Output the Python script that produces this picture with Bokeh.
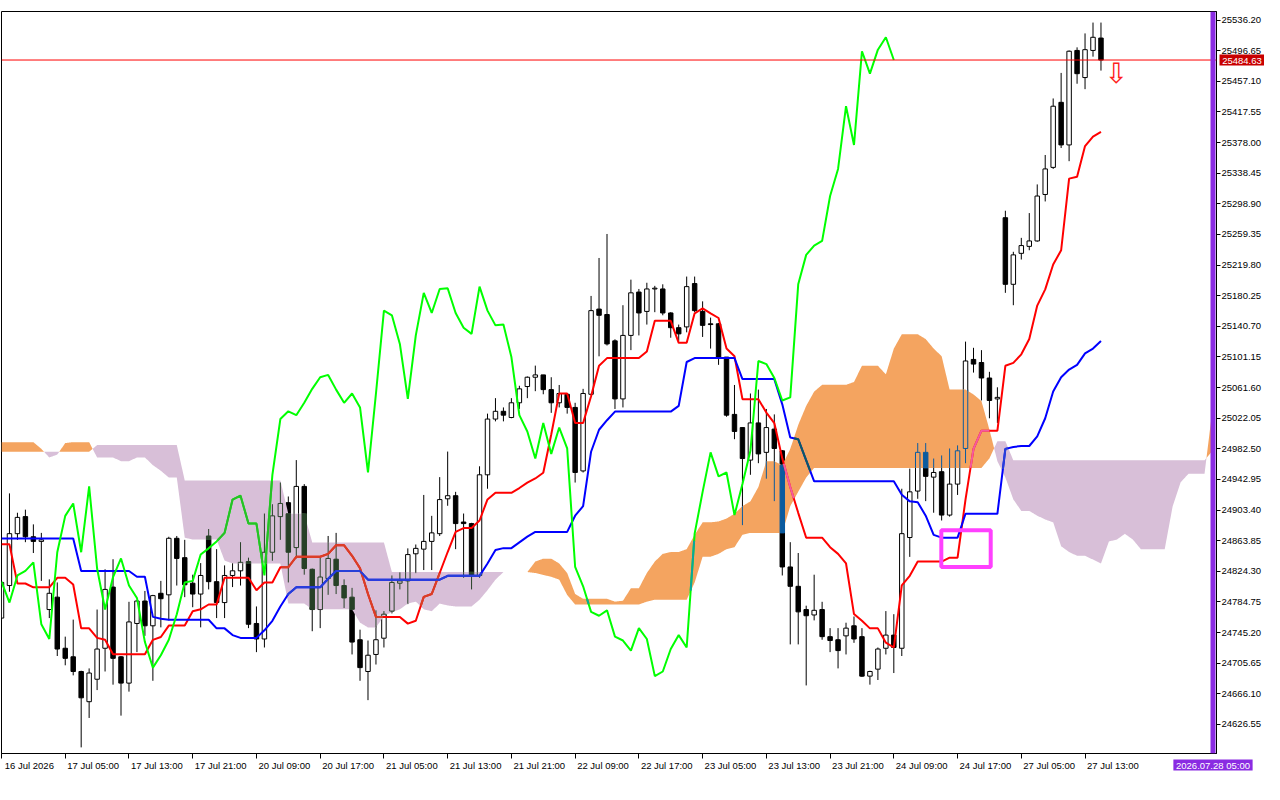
import numpy as np

from bokeh.core.properties import value
from bokeh.embed import file_html
from bokeh.models import FixedTicker, Label, PrintfTickFormatter, Range1d, Span
from bokeh.plotting import figure
from bokeh.resources import INLINE

# H1 candles, bar 0 = 16 Jul 2026 21:00, last bar = 27 Jul 17:00
open_ = [24764, 24806, 24873, 24895, 24869, 24863, 24775, 24791, 24725, 24714,
         24695, 24656, 24685, 24725, 24804, 24714, 24680, 24757, 24786, 24754,
         24796, 24794, 24867, 24842, 24809, 24795, 24870, 24811, 24784, 24819,
         24825, 24837, 24757, 24737, 24849, 24895, 24913, 24855, 24934, 24827,
         24775, 24815, 24840, 24806, 24791, 24736, 24695, 24717, 24738, 24773,
         24809, 24812, 24847, 24853, 24863, 24873, 24918, 24922, 24888, 24886,
         24819, 24949, 25021, 25031, 25023, 25042, 25063, 25075, 25078, 25059,
         25042, 25053, 25036, 24954, 25053, 25163, 25156, 25122, 25047, 25129,
         25185, 25160, 25189, 25189, 25158, 25139, 25140, 25196, 25160, 25144,
         25144, 25101, 25027, 25010, 24968, 25016, 24978, 25008, 24980, 24830,
         24805, 24775, 24768, 24775, 24740, 24736, 24741, 24754, 24740, 24689,
         24698, 24725, 24742, 24725, 24868, 24928, 24978, 24946, 24953, 24897,
         24937, 24983, 25098, 25094, 25074, 25047, 25281, 25195, 25235, 25244,
         25251, 25311, 25346, 25430, 25375, 25497, 25462, 25497, 25513]
high = [24816, 24925, 24900, 24904, 24885, 24874, 24814, 24810, 24740, 24762,
        24696, 24699, 24775, 24827, 24840, 24715, 24785, 24787, 24799, 24794,
        24812, 24869, 24870, 24865, 24820, 24835, 24879, 24853, 24832, 24835,
        24862, 24842, 24779, 24899, 24911, 24939, 24921, 24968, 24937, 24828,
        24842, 24870, 24874, 24814, 24803, 24749, 24735, 24774, 24773, 24819,
        24823, 24854, 24859, 24923, 24896, 24946, 24979, 24927, 24899, 24887,
        24960, 25028, 25048, 25036, 25048, 25064, 25076, 25090, 25078, 25075,
        25065, 25054, 25042, 25060, 25180, 25229, 25260, 25124, 25168, 25201,
        25189, 25197, 25193, 25195, 25159, 25143, 25205, 25205, 25173, 25152,
        25145, 25101, 25065, 25010, 25054, 25059, 25034, 25027, 24981, 24862,
        24848, 24780, 24820, 24785, 24751, 24751, 24758, 24766, 24751, 24696,
        24726, 24773, 24769, 24931, 24957, 24990, 24990, 24970, 24974, 24983,
        24987, 25121, 25113, 25110, 25082, 25062, 25290, 25237, 25255, 25287,
        25324, 25362, 25435, 25468, 25497, 25501, 25519, 25533, 25533]
low = [24760, 24798, 24865, 24862, 24848, 24812, 24764, 24715, 24703, 24690,
       24597, 24635, 24671, 24695, 24678, 24638, 24669, 24720, 24741, 24683,
       24752, 24761, 24806, 24791, 24778, 24752, 24801, 24764, 24764, 24804,
       24806, 24751, 24720, 24726, 24838, 24865, 24810, 24841, 24820, 24747,
       24751, 24794, 24795, 24777, 24717, 24683, 24658, 24704, 24726, 24770,
       24801, 24782, 24822, 24826, 24826, 24870, 24909, 24853, 24816, 24801,
       24816, 24931, 25018, 25018, 25022, 25034, 25048, 25057, 25053, 25029,
       25036, 25028, 24939, 24952, 25052, 25102, 25116, 25034, 25036, 25110,
       25129, 25143, 25159, 25155, 25126, 25122, 25133, 25159, 25127, 25112,
       25091, 25024, 24995, 24884, 24949, 24964, 24944, 24915, 24819, 24730,
       24730, 24677, 24761, 24736, 24720, 24699, 24717, 24732, 24688, 24678,
       24684, 24717, 24693, 24715, 24843, 24918, 24915, 24900, 24890, 24895,
       24923, 24964, 25081, 25045, 25022, 25016, 25184, 25168, 25227, 25239,
       25250, 25302, 25344, 25371, 25354, 25454, 25447, 25489, 25471]
close = [24810, 24873, 24894, 24869, 24863, 24865, 24796, 24724, 24712, 24695,
         24661, 24693, 24724, 24801, 24712, 24680, 24759, 24786, 24754, 24793,
         24789, 24867, 24841, 24807, 24795, 24819, 24811, 24784, 24819, 24825,
         24836, 24756, 24737, 24849, 24896, 24912, 24849, 24934, 24828, 24775,
         24817, 24841, 24806, 24790, 24733, 24700, 24716, 24736, 24769, 24810,
         24812, 24846, 24854, 24863, 24874, 24917, 24922, 24886, 24886, 24819,
         24949, 25021, 25031, 25026, 25042, 25060, 25075, 25078, 25059, 25042,
         25054, 25036, 24952, 25054, 25161, 25155, 25118, 25047, 25129, 25184,
         25158, 25189, 25190, 25158, 25139, 25131, 25192, 25161, 25142, 25143,
         25101, 25026, 25005, 24970, 25016, 24976, 25010, 24983, 24830, 24805,
         24772, 24767, 24774, 24740, 24735, 24722, 24751, 24737, 24689, 24695,
         24724, 24742, 24726, 24873, 24927, 24978, 24947, 24952, 24897, 24937,
         24980, 25096, 25092, 25074, 25045, 25049, 25195, 25233, 25245, 25251,
         25309, 25344, 25425, 25375, 25496, 25467, 25498, 25514, 25484.63]

tenkan = [24859.2, 24859.2, 24808.6, 24808.6, 24803.7, 24803.7, 24803.7, 24816.0, 24816.0, 24807.4,
          24750.7, 24750.7, 24738.4, 24735.9, 24717.4, 24717.4, 24717.4, 24717.4, 24717.4, 24735.9,
          24739.6, 24754.3, 24754.3, 24754.3, 24772.9, 24775.3, 24781.5, 24781.5, 24816.0, 24816.0,
          24816.0, 24816.0, 24800.0, 24809.9, 24809.9, 24829.6, 24829.6, 24843.2, 24843.2, 24843.2,
          24843.2, 24846.9, 24858.0, 24858.0, 24844.4, 24828.4, 24795.1, 24765.5, 24765.5, 24765.5,
          24765.5, 24756.8, 24760.5, 24791.4, 24795.1, 24822.2, 24849.3, 24875.3, 24880.2, 24880.2,
          24890.0, 24917.2, 24925.8, 24925.8, 24925.8, 24931.9, 24938.9, 24944.3, 24951.7, 25001.0,
          25054.1, 25054.1, 25015.8, 25015.8, 25050.4, 25089.8, 25099.7, 25099.7, 25099.7, 25099.7,
          25099.7, 25108.3, 25147.8, 25147.8, 25147.8, 25119.4, 25119.4, 25157.6, 25163.8, 25157.6,
          25151.5, 25112.0, 25102.2, 25046.7, 25046.7, 25046.7, 25029.4, 25015.8, 24970.2, 24933.2,
          24899.9, 24867.8, 24867.8, 24867.8, 24855.5, 24846.9, 24834.5, 24769.2, 24760.5, 24750.7,
          24750.7, 24732.2, 24726.0, 24806.2, 24818.5, 24837.0, 24837.0, 24837.0, 24837.0, 24842.0,
          24842.0, 24917.2, 24982.5, 25006.0, 25006.0, 25006.0, 25089.8, 25093.5, 25104.6, 25124.3,
          25167.5, 25188.5, 25220.5, 25239.0, 25331.5, 25334.0, 25373.5, 25385.8, 25391.9]
kijun = [24866.6, 24866.6, 24866.6, 24866.6, 24866.6, 24866.6, 24866.6, 24866.6, 24866.6, 24866.6,
         24824.7, 24824.7, 24824.7, 24824.7, 24824.7, 24824.7, 24824.7, 24817.3, 24817.3, 24765.5,
         24763.0, 24761.8, 24761.8, 24761.8, 24761.8, 24761.8, 24761.8, 24750.7, 24750.7, 24742.0,
         24738.4, 24738.4, 24738.4, 24748.2, 24760.5, 24779.0, 24795.1, 24803.7, 24803.7, 24803.7,
         24803.7, 24814.8, 24824.7, 24824.7, 24824.7, 24824.7, 24813.6, 24813.6, 24813.6, 24813.6,
         24813.6, 24813.6, 24813.6, 24813.6, 24813.6, 24813.6, 24818.5, 24818.5, 24818.5, 24818.5,
         24818.5, 24834.5, 24851.8, 24854.3, 24854.3, 24861.7, 24869.1, 24875.3, 24875.3, 24875.3,
         24875.3, 24875.3, 24896.2, 24908.5, 24978.8, 25007.2, 25019.5, 25030.6, 25030.6, 25030.6,
         25030.6, 25030.6, 25030.6, 25030.6, 25030.6, 25038.0, 25094.7, 25099.7, 25099.7, 25099.7,
         25099.7, 25099.7, 25099.7, 25072.6, 25072.6, 25072.6, 25072.6, 25072.6, 25040.0, 24997.3,
         24994.9, 24967.7, 24940.6, 24940.6, 24940.6, 24940.6, 24940.6, 24940.6, 24940.6, 24940.6,
         24940.6, 24940.6, 24940.6, 24923.3, 24914.7, 24913.5, 24896.2, 24871.5, 24867.8, 24867.8,
         24867.8, 24898.7, 24898.7, 24898.7, 24898.7, 24898.7, 24982.5, 24985.0, 24986.2, 24986.2,
         24998.5, 25022.0, 25056.5, 25075.0, 25084.9, 25091.0, 25105.8, 25112.0, 25121.9]
# senkou spans as drawn (already shifted 26 bars forward), bars 0..152
span_a = [24991.2, 24991.2, 24991.2, 24991.2, 24991.2, 24982.5, 24971.4, 24975.1, 24990.0, 24991.2,
          24991.2, 24991.2, 24971.4, 24971.4, 24971.4, 24966.5, 24966.5, 24971.4, 24971.4, 24961.5,
          24954.2, 24945.5, 24945.5, 24867.8, 24865.4, 24865.4, 24865.4, 24865.4, 24838.2, 24834.5,
          24834.5, 24834.5, 24834.5, 24834.5, 24834.5, 24834.5, 24782.7, 24782.7, 24782.7, 24775.3,
          24775.3, 24775.3, 24775.3, 24775.3, 24775.3, 24758.1, 24751.9, 24751.9, 24766.7, 24771.6,
          24775.3, 24782.7, 24785.2, 24775.3, 24772.9, 24782.7, 24780.3, 24779.0, 24779.0, 24779.0,
          24787.7, 24800.0, 24813.6, 24823.4, 24823.4, 24823.4, 24823.4, 24837.0, 24840.7, 24840.7,
          24834.5, 24822.2, 24795.1, 24788.9, 24788.9, 24788.9, 24788.9, 24785.2, 24786.4, 24802.5,
          24802.5, 24822.2, 24837.0, 24846.9, 24849.3, 24849.3, 24853.0, 24871.5, 24887.6, 24887.6,
          24888.8, 24892.5, 24898.7, 24908.5, 24914.7, 24933.2, 24966.5, 24966.5, 24961.5, 24982.5,
          25013.4, 25038.0, 25056.5, 25065.2, 25065.2, 25065.2, 25065.2, 25068.9, 25089.8, 25089.8,
          25089.8, 25078.7, 25112.0, 25130.5, 25130.5, 25130.5, 25124.3, 25112.0, 25102.2, 25059.0,
          25059.0, 25059.0, 25052.8, 25044.2, 25007.2, 24966.5, 24945.5, 24917.2, 24902.4, 24902.4,
          24896.2, 24891.3, 24887.6, 24856.7, 24849.3, 24844.4, 24844.4, 24839.5, 24834.5, 24862.9,
          24865.4, 24872.8, 24865.4, 24853.0, 24853.0, 24853.0, 24853.0, 24908.5, 24939.4, 24950.5,
          24950.5, 24950.5, 25034.3]
span_b = [24978.8, 24978.8, 24978.8, 24978.8, 24978.8, 24978.8, 24978.8, 24978.8, 24978.8, 24978.8,
          24978.8, 24978.8, 24987.4, 24987.4, 24987.4, 24987.4, 24987.4, 24987.4, 24987.4, 24987.4,
          24987.4, 24987.4, 24987.4, 24941.8, 24941.8, 24941.8, 24941.8, 24941.8, 24941.8, 24941.8,
          24941.8, 24941.8, 24941.8, 24941.8, 24941.8, 24941.8, 24898.7, 24898.7, 24898.7, 24861.7,
          24861.7, 24861.7, 24861.7, 24861.7, 24861.7, 24861.7, 24861.7, 24861.7, 24861.7, 24823.4,
          24823.4, 24823.4, 24823.4, 24823.4, 24823.4, 24823.4, 24823.4, 24823.4, 24823.4, 24823.4,
          24823.4, 24823.4, 24823.4, 24823.4, 24823.4, 24823.4, 24823.4, 24822.2, 24819.7, 24817.3,
          24813.6, 24793.8, 24781.5, 24781.5, 24781.5, 24781.5, 24781.5, 24781.5, 24781.5, 24781.5,
          24781.5, 24785.2, 24787.7, 24787.7, 24787.7, 24787.7, 24787.7, 24809.9, 24843.2, 24843.2,
          24846.9, 24853.0, 24855.5, 24871.5, 24874.0, 24874.0, 24874.0, 24874.0, 24874.0, 24908.5,
          24927.1, 24945.5, 24957.9, 24957.9, 24957.9, 24957.9, 24957.9, 24957.9, 24957.9, 24957.9,
          24957.9, 24957.9, 24957.9, 24957.9, 24957.9, 24957.9, 24957.9, 24957.9, 24957.9, 24957.9,
          24957.9, 24957.9, 24957.9, 24957.9, 24970.2, 24992.4, 24992.4, 24967.7, 24967.7, 24967.7,
          24967.7, 24967.7, 24967.7, 24967.7, 24967.7, 24967.7, 24967.7, 24967.7, 24967.7, 24967.7,
          24967.7, 24967.7, 24967.7, 24967.7, 24967.7, 24967.7, 24967.7, 24967.7, 24967.7, 24967.7,
          24967.7, 24967.7, 24980.1]

time_ticks = [0, 8, 16, 24, 32, 40, 48, 56, 64, 72, 80, 88, 96, 104, 112, 120, 128, 136]
time_labels = ['16 Jul 2026', '17 Jul 05:00', '17 Jul 13:00', '17 Jul 21:00', '20 Jul 09:00',
               '20 Jul 17:00', '21 Jul 05:00', '21 Jul 13:00', '21 Jul 21:00', '22 Jul 09:00',
               '22 Jul 17:00', '23 Jul 05:00', '23 Jul 13:00', '23 Jul 21:00', '24 Jul 09:00',
               '24 Jul 17:00', '27 Jul 05:00', '27 Jul 13:00']
price_ticks = [25536.20, 25496.65, 25457.10, 25417.55, 25378.00, 25338.45, 25298.90, 25259.35,
               25219.80, 25180.25, 25140.70, 25101.15, 25061.60, 25022.05, 24982.50, 24942.95,
               24903.40, 24863.85, 24824.30, 24784.75, 24745.20, 24705.65, 24666.10, 24626.55]

bid_price = 25484.63
shift_bar = 152.06
shift_label = '2026.07.28 05:00'
signal_bar = 139.9
signal_price = 25467.0
box_left, box_right = 117.96, 124.16
box_top, box_bottom = 24877.5, 24830.1

UP_KUMO = '#F4A460'
DOWN_KUMO = '#D8BFD8'
FONT = 'Liberation Sans'
FONT_SIZE = '9.5px'
BODY_W = 0.56
CHIKOU_SHIFT = 26
LABEL_SHIFT = 3.5
Y_LO, Y_HI = 24589.1, 25547.3
X_HI = 152.5
NBSP = '\u00a0'


def xor_ink(ink, kumo):
    # the terminal paints the kumo in XOR mode, so whatever lies under it is inverted
    return '#%06X' % (int(ink[1:], 16) ^ (0xFFFFFF ^ int(kumo[1:], 16)))


p = figure(width=1264, height=784,
           x_range=Range1d(0, X_HI), y_range=Range1d(Y_LO, Y_HI),
           y_axis_location='right', output_backend='svg', toolbar_location=None,
           min_border_left=1, min_border_top=0, min_border_right=46, min_border_bottom=16)
p.grid.visible = False
p.outline_line_color = 'black'
p.background_fill_color = 'white'
p.border_fill_color = 'white'

o = np.array(open_, dtype=float)
h = np.array(high, dtype=float)
l = np.array(low, dtype=float)
c = np.array(close, dtype=float)
bars = np.arange(len(c))
bull = c >= o
body_top = np.maximum(o, c)
body_bot = np.minimum(o, c)

# candles
p.segment(x0=bars, y0=h, x1=bars, y1=l, line_color='black', line_width=1)
p.vbar(x=bars[bull], width=BODY_W, top=body_top[bull], bottom=body_bot[bull],
       fill_color='white', line_color='black', line_width=1)
p.vbar(x=bars[~bull], width=BODY_W, top=body_top[~bull], bottom=body_bot[~bull],
       fill_color='black', line_color='black', line_width=1)

# kumo on a fine grid so the colour switches exactly where the spans cross
kb = np.arange(len(span_a))
xf = np.linspace(0, kb[-1], kb[-1] * 16 + 1)
af = np.interp(xf, kb, span_a)
bf = np.interp(xf, kb, span_b)
upper = np.maximum(af, bf)
p.varea(x=xf, y1=bf, y2=upper, fill_color=UP_KUMO)
p.varea(x=xf, y1=af, y2=upper, fill_color=DOWN_KUMO)

# candle parts sitting inside the kumo
hw = BODY_W / 2
seg = {'x0': [], 'y0': [], 'x1': [], 'y1': [], 'color': []}
box = {'left': [], 'right': [], 'top': [], 'bottom': [], 'color': []}
for i in bars:
    a, b = span_a[i], span_b[i]
    if a == b:
        continue
    lo, hi = min(a, b), max(a, b)
    ink = xor_ink('#000000', UP_KUMO if a > b else DOWN_KUMO)
    if bull[i]:
        wicks = [(l[i], body_bot[i]), (body_top[i], h[i])]
    else:
        wicks = [(l[i], h[i])]
    for y0, y1 in wicks:
        y0, y1 = max(y0, lo), min(y1, hi)
        if y1 > y0:
            for key, v in zip(('x0', 'y0', 'x1', 'y1', 'color'), (i, y0, i, y1, ink)):
                seg[key].append(v)
    y0, y1 = max(body_bot[i], lo), min(body_top[i], hi)
    if y1 < y0:
        continue
    if bull[i]:
        edges = [(i - hw, y0, i - hw, y1), (i + hw, y0, i + hw, y1)]
        for yy in (body_top[i], body_bot[i]):
            if lo <= yy <= hi:
                edges.append((i - hw, yy, i + hw, yy))
        for e in edges:
            for key, v in zip(('x0', 'y0', 'x1', 'y1', 'color'), e + (ink,)):
                seg[key].append(v)
    else:
        for key, v in zip(('left', 'right', 'top', 'bottom', 'color'), (i - hw, i + hw, y1, y0, ink)):
            box[key].append(v)

p.segment(x0='x0', y0='y0', x1='x1', y1='y1', line_color='color', line_width=1, source=seg)
p.quad(left='left', right='right', top='top', bottom='bottom', fill_color='color',
       line_color='color', line_width=1, source=box)


def kumo_overlay(xs, ys, ink):
    xs = np.asarray(xs, dtype=float)
    ys = np.asarray(ys, dtype=float)
    xq = np.linspace(xs[0], xs[-1], int(round((xs[-1] - xs[0]) * 16)) + 1)
    yq = np.interp(xq, xs, ys)
    aq = np.interp(xq, kb, span_a)
    bq = np.interp(xq, kb, span_b)
    for kumo, mask in ((UP_KUMO, (aq > bq) & (yq <= aq) & (yq >= bq)),
                       (DOWN_KUMO, (bq > aq) & (yq <= bq) & (yq >= aq))):
        edges = np.flatnonzero(np.diff(np.r_[0, mask.astype(int), 0]))
        runs_x, runs_y = [], []
        for s, e in zip(edges[::2], edges[1::2]):
            if e - s >= 2:
                runs_x.append(xq[s:e])
                runs_y.append(yq[s:e])
        if runs_x:
            p.multi_line(runs_x, runs_y, line_color=xor_ink(ink, kumo), line_width=2)


chikou_x = bars[CHIKOU_SHIFT:] - CHIKOU_SHIFT
chikou_y = c[CHIKOU_SHIFT:]
lines = ((bars, tenkan, '#FF0000'), (bars, kijun, '#0000FF'), (chikou_x, chikou_y, '#00FF00'))
for xs, ys, col in lines:
    p.line(xs, ys, line_color=col, line_width=2)
for xs, ys, col in lines:
    kumo_overlay(xs, ys, col)

# bid line, chart shift marker, signal box and arrow
p.add_layout(Span(location=bid_price, dimension='width', line_color='#FF0000', line_width=1))
p.add_layout(Span(location=shift_bar, dimension='height', line_color='#8A2BE2', line_width=5))
p.quad(left=[box_left], right=[box_right], top=[box_top], bottom=[box_bottom],
       fill_color=None, line_color='#FF40FF', line_width=4)
p.text(x=[signal_bar], y=[signal_price], text=['\u21e9'], text_font=value('DejaVu Sans'),
       text_font_size='28px', text_color='#FF2020', text_align='center', text_baseline='middle')

# time axis: labels sit right of their tick as in the terminal, ticks are drawn as minor ticks
shifted = [t + LABEL_SHIFT for t in time_ticks]
p.xaxis.ticker = FixedTicker(ticks=shifted, minor_ticks=time_ticks)
p.xaxis.major_label_overrides = dict(zip(shifted, time_labels))
p.xaxis.major_tick_line_color = None
p.xaxis.major_tick_out = 0
p.xaxis.major_tick_in = 0
p.xaxis.minor_tick_line_color = 'black'
p.xaxis.minor_tick_out = 5
p.xaxis.minor_tick_in = 0
p.xaxis.major_label_standoff = 1
p.xaxis.major_label_text_font = FONT
p.xaxis.major_label_text_font_size = FONT_SIZE
p.xaxis.major_label_text_color = 'black'
p.xaxis.axis_line_color = 'black'

p.yaxis.ticker = FixedTicker(ticks=price_ticks)
p.yaxis.formatter = PrintfTickFormatter(format='%.2f')
p.yaxis.major_tick_out = 4
p.yaxis.major_tick_in = 0
p.yaxis.minor_tick_line_color = None
p.yaxis.major_label_standoff = 1
p.yaxis.major_label_text_font = FONT
p.yaxis.major_label_text_font_size = FONT_SIZE
p.yaxis.major_label_text_color = 'black'
p.yaxis.axis_line_color = 'black'

# tags outside the frame have to live in a side panel, otherwise they get clipped to the frame;
# they are positioned in data units, so the panel they sit in does not matter
p.add_layout(Label(x=X_HI, y=bid_price, x_offset=3, text=NBSP + '%.2f' % bid_price + NBSP,
                   text_font=FONT, text_font_size=FONT_SIZE, text_color='white',
                   text_baseline='middle', background_fill_color='#C80000', padding=0), 'above')
p.add_layout(Label(x=shift_bar, y=Y_LO, y_offset=-6, text=NBSP + shift_label + NBSP,
                   text_font=FONT, text_font_size=FONT_SIZE, text_color='white',
                   text_align='center', text_baseline='top', background_fill_color='#8A2BE2', padding=0), 'below')

open('out.html', 'w', encoding='utf-8').write(file_html(p, INLINE))
